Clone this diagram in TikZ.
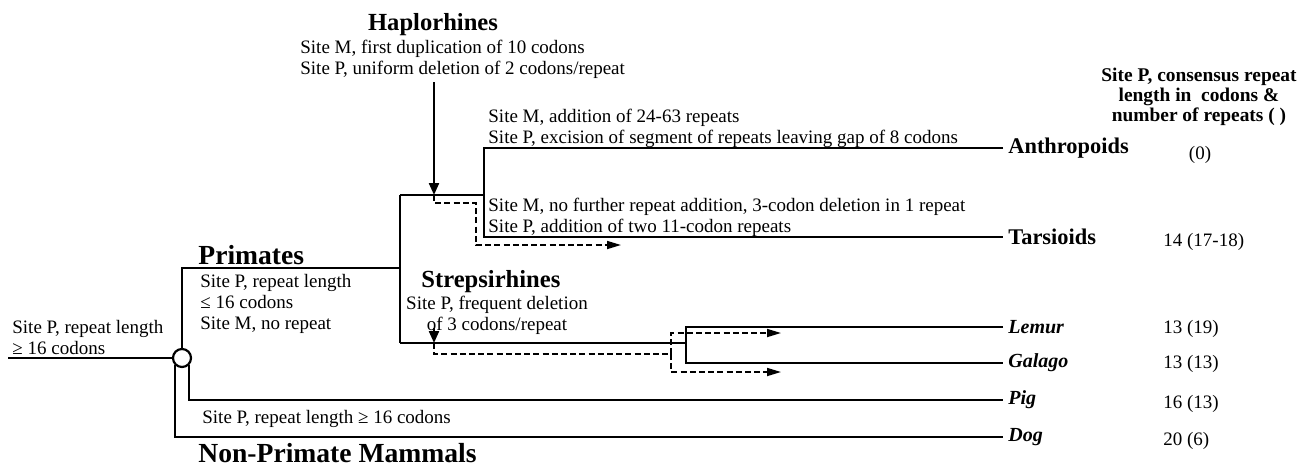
\documentclass[tikz,border=0pt]{standalone}
\usepackage{fontspec}
\setmainfont{Liberation Serif}
\usetikzlibrary{arrows.meta}

\begin{document}
\begin{tikzpicture}[x=0.5pt, y=-0.5pt,
  branch/.style={line width=1.1pt},
  gene/.style={line width=0.85pt, dash pattern=on 3pt off 1.6pt},
  note/.style={font=\fontsize{9.5}{10.3}\selectfont, inner sep=0pt, align=left, anchor=base west},
  clade/.style={font=\bfseries\fontsize{12.3}{14}\selectfont, inner sep=0pt, anchor=base west},
  group/.style={font=\bfseries\fontsize{13.8}{16}\selectfont, inner sep=0pt, anchor=base west},
  taxon/.style={font=\bfseries\fontsize{11.2}{13}\selectfont, inner xsep=2.5pt, inner ysep=0pt, anchor=west},
  species/.style={font=\bfseries\itshape\fontsize{10}{12}\selectfont, inner xsep=2.5pt, inner ysep=0pt, anchor=west},
  tally/.style={font=\fontsize{9.5}{11}\selectfont, inner sep=0pt, anchor=base west}]
  \useasboundingbox (0,0) rectangle (1308,467);

  \node[taxon] (anth) at (1003,148) {Anthropoids};
  \node[taxon] (tars) at (1003,237) {Tarsioids};
  \node[species] (lemur) at (1003,327) {Lemur};
  \node[species] (galago) at (1003,363) {Galago};
  \node[species] (pig) at (1003,400) {Pig};
  \node[species] (dog) at (1003,437) {Dog};

  \node[circle, draw, branch, fill=white, minimum size=9pt, inner sep=0pt] (fork) at (182,358) {};
  \coordinate (root) at (8,358);
  \coordinate (pri) at (400,268);
  \coordinate (hap) at (400,195);
  \coordinate (strep) at (400,343);
  \coordinate (hapfork) at (484,195);
  \coordinate (strfork) at (686,343);

  \draw[branch] (root) -- (fork);
  \draw[branch] (fork) |- (pri);
  \draw[branch] (hap) -- (strep);
  \draw[branch] (hap) -- (hapfork);
  \draw[branch] (anth) -| (hapfork) |- (tars);
  \draw[branch] (strep) -- (strfork);
  \draw[branch] (lemur) -| (strfork) |- (galago);
  \draw[branch] (fork.-45) |- (pig);
  \draw[branch] (fork.-135) |- (dog);

  \coordinate (hapin) at (434,82);
  \coordinate (hapat) at (434,195);
  \draw[branch, -{Triangle[length=6pt, width=5pt]}] (hapin) -- (hapat);
  \draw[gene, -{Triangle[length=7pt, width=4pt]}] (hapat) -- ++(0,8) -| (476,245) -- (621,245);

  \coordinate (strin) at (434,328);
  \coordinate (strat) at (434,343);
  \coordinate (strsplit) at (671,354);
  \draw[branch, -{Triangle[length=6pt, width=5pt]}] (strin) -- (strat);
  \draw[gene] (strat) -- ++(0,11) -- (strsplit);
  \draw[gene, -{Triangle[length=7pt, width=4pt]}] (strsplit) |- (781,333);
  \draw[gene, -{Triangle[length=7pt, width=4pt]}] (strsplit) |- (781,372);

  \node[note] (rootnote) at (12,354) {Site P, repeat length\\≥ 16 codons};
  \node[group] (primates) at (198,264) {Primates};
  \node[note] (prinote) at (200,329) {Site P, repeat length\\≤ 16 codons\\Site M, no repeat};
  \node[clade, anchor=base] (haplo) at (433,30) {Haplorhines};
  \node[note] (hapnote) at (300,74) {Site M, first duplication of 10 codons\\Site P, uniform deletion of 2 codons/repeat};
  \node[clade] (strepsi) at (421,287) {Strepsirhines};
  \node[note, align=center, anchor=base] (strnote) at (497,330) {Site P, frequent deletion\\of 3 codons/repeat};
  \node[note] (anthnote) at (488,143) {Site M, addition of 24-63 repeats\\Site P, excision of segment of repeats leaving gap of 8 codons};
  \node[note] (tarsnote) at (488,232) {Site M, no further repeat addition, 3-codon deletion in 1 repeat\\Site P, addition of two 11-codon repeats};
  \node[note] (pignote) at (202,423) {Site P, repeat length ≥ 16 codons};
  \node[group] (nonpri) at (198,462) {Non-Primate Mammals};

  \node[font=\bfseries\fontsize{9.7}{10}\selectfont, align=center, anchor=base, inner sep=0pt] (head) at (1199,121) {Site P, consensus repeat\\length in\ \ codons \&\\number of repeats ( )};
  \node[tally, anchor=base] (n0) at (1200,159) {(0)};
  \foreach \y/\v in {246/14 (17-18), 333/13 (19), 368/13 (13), 408/16 (13), 445/20 (6)}
    \node[tally] (n\y) at (1163,\y) {\v};
\end{tikzpicture}
\end{document}
